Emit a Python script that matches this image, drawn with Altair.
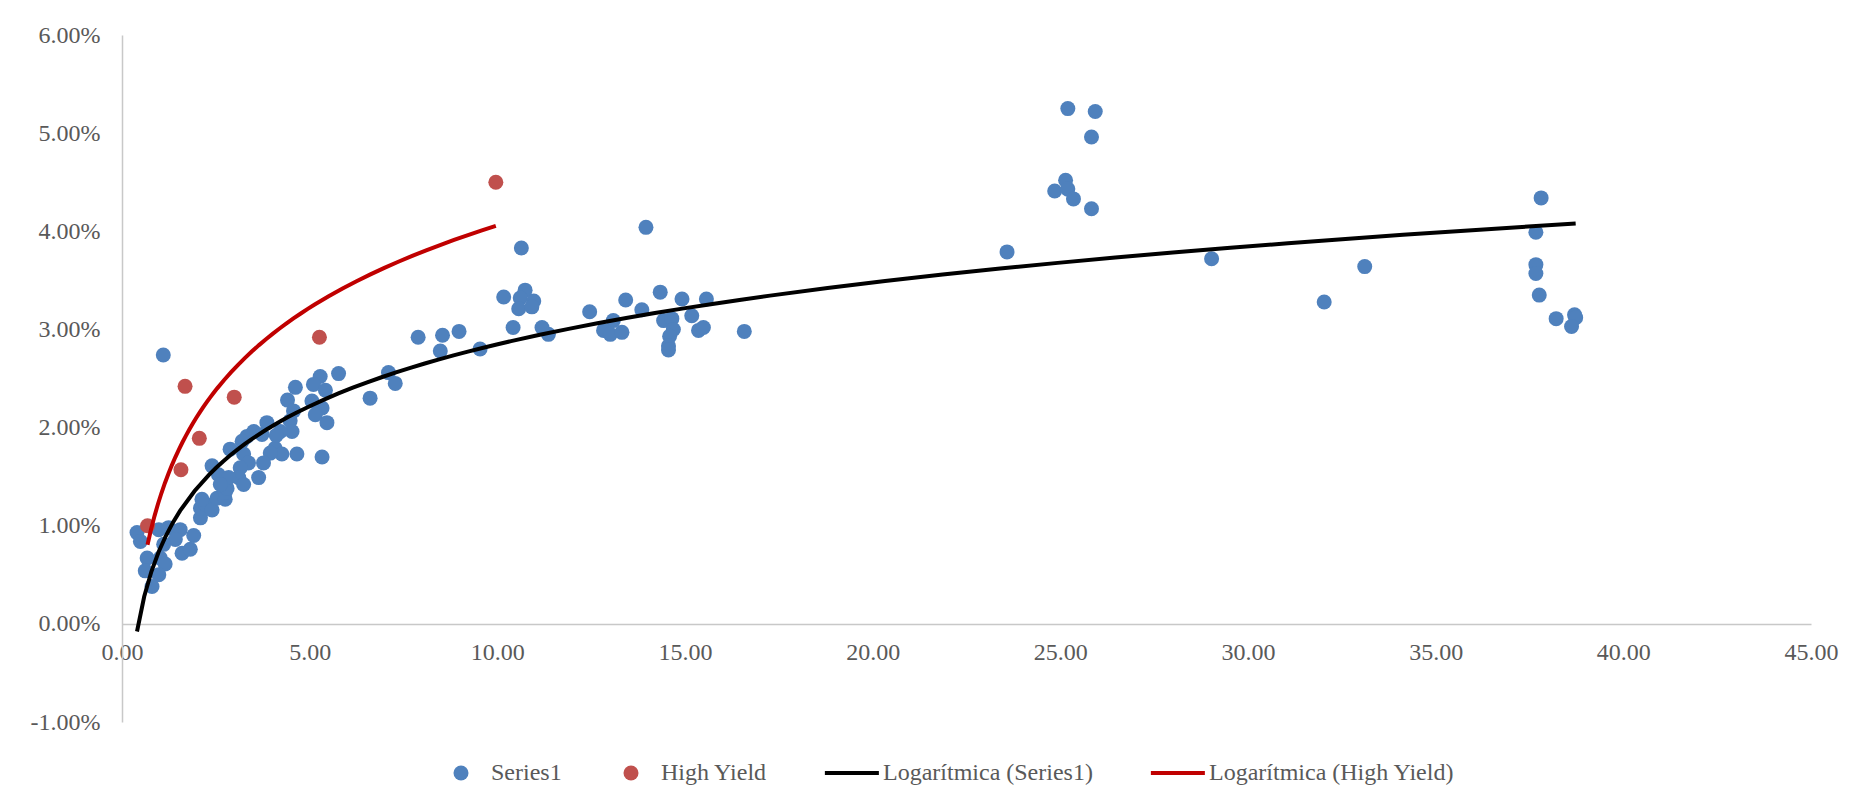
import altair as alt
import pandas as pd

# ---- data (x, yield in %) ----
series1_x = [0.40, 0.49, 0.98, 1.24, 1.55, 1.91, 1.42, 1.11, 1.60, 1.82, 0.67, 1.02, 1.15, 0.62, 0.98, 0.80,
             2.09, 2.09, 2.22, 2.40, 2.13, 2.53, 2.75, 2.75, 2.80, 1.10,
             5.77, 5.28, 5.10, 5.42, 4.62, 4.41, 5.06, 5.33, 5.15, 5.46, 4.57, 4.48, 3.86, 4.53, 4.22, 3.51,
             3.33, 3.73, 3.20, 2.88, 3.24, 4.08, 4.26, 3.95, 4.66, 5.33, 3.77, 3.37, 2.40, 3.15, 3.64, 3.11,
             2.57, 2.84, 2.62, 3.24, 4.11,
             10.64, 10.17, 10.74, 10.61, 10.97, 10.57, 10.92, 10.42, 11.19, 11.36, 12.46, 8.98, 8.54, 7.89,
             8.48, 9.54, 7.10, 7.28, 6.61,
             13.96, 13.42, 14.34, 13.85, 14.92, 15.57, 13.09, 12.83, 13.01, 13.32, 14.43, 14.65, 15.18, 14.69,
             14.59, 14.56, 14.56, 15.36, 15.49, 16.58,
             23.58, 25.20, 25.93, 25.83, 25.14, 24.85, 25.20, 25.35, 25.83, 29.03, 32.03, 33.11, 37.81, 37.67,
             37.67, 37.67, 37.76, 38.21, 38.70, 38.73, 38.62]
series1_y = [0.93, 0.84, 0.96, 0.98, 0.96, 0.90, 0.86, 0.81, 0.72, 0.76, 0.67, 0.67, 0.61, 0.54, 0.50, 0.38,
             1.08, 1.18, 1.22, 1.16, 1.27, 1.28, 1.27, 1.34, 1.38, 2.74,
             2.55, 2.52, 2.44, 2.38, 2.41, 2.28, 2.27, 2.20, 2.13, 2.05, 2.17, 2.07, 2.05, 1.96, 1.96, 1.96,
             1.91, 1.93, 1.86, 1.78, 1.73, 1.79, 1.73, 1.74, 1.73, 1.70, 1.64, 1.64, 1.61, 1.59, 1.49, 1.49,
             1.52, 1.49, 1.42, 1.42, 1.92,
             3.83, 3.33, 3.40, 3.32, 3.29, 3.21, 3.23, 3.02, 3.02, 2.95, 3.18, 2.98, 2.94, 2.92,
             2.78, 2.80, 2.56, 2.45, 2.30,
             4.04, 3.30, 3.38, 3.20, 3.31, 3.31, 3.09, 2.99, 2.95, 2.97, 3.09, 3.11, 3.14, 3.00,
             2.93, 2.83, 2.79, 2.99, 3.02, 2.98,
             3.79, 5.25, 5.22, 4.96, 4.52, 4.41, 4.43, 4.33, 4.23, 3.72, 3.28, 3.64, 4.34, 3.99,
             3.66, 3.57, 3.35, 3.11, 3.15, 3.12, 3.03]

high_yield_x = [0.68, 1.57, 1.68, 2.06, 2.99, 5.26, 9.96]
high_yield_y = [1.00, 1.57, 2.42, 1.89, 2.31, 2.92, 4.50]

legend_names = ["Series1", "High Yield", "Logarítmica (Series1)", "Logarítmica (High Yield)"]
legend_colors = ["#4F81BD", "#C0504D", "#000000", "#C00000"]
# legend symbols: dots for the series, a short bar for each trend line
line_symbol = "M-3.75,-0.27H3.45V0.27H-3.75Z"
legend_shapes = ["circle", "circle", line_symbol, line_symbol]

x_ticks = [0, 5, 10, 15, 20, 25, 30, 35, 40, 45]
y_ticks = [-0.01, 0.0, 0.01, 0.02, 0.03, 0.04, 0.05, 0.06]

df = pd.DataFrame({
    "x": series1_x + high_yield_x,
    "y": [v / 100 for v in series1_y + high_yield_y],
    "series": ["Series1"] * len(series1_x) + ["High Yield"] * len(high_yield_x),
})

FONT = "Liberation Serif"
TXT = "#595959"
AX = "#C8C8C8"

leg = alt.Legend(title=None, orient="none", legendX=327, legendY=726, direction="horizontal")

x_enc = alt.X("x:Q", scale=alt.Scale(domain=[0, 45], nice=False),
              axis=alt.Axis(values=x_ticks, format=".2f", title=None, grid=False, ticks=False,
                            offset=-98, labelPadding=16, labelFlush=False, domainColor=AX, domainWidth=1.5,
                            labelFont=FONT, labelFontSize=24, labelColor=TXT))
y_enc = alt.Y("y:Q", scale=alt.Scale(domain=[-0.01, 0.06], nice=False),
              axis=alt.Axis(values=y_ticks, format=".2%", title=None, grid=False, ticks=False,
                            labelPadding=22, labelFlush=False, domainColor=AX, domainWidth=1.5,
                            labelExpr="replace(datum.label, '\u2212', '-')",
                            labelFont=FONT, labelFontSize=24, labelColor=TXT))
color_enc = alt.Color("series:N", scale=alt.Scale(domain=legend_names, range=legend_colors), legend=leg)

points = alt.Chart(df).mark_point(filled=True, opacity=1, size=225).encode(
    x=x_enc, y=y_enc, color=color_enc,
    shape=alt.Shape("series:N", scale=alt.Scale(domain=legend_names, range=legend_shapes), legend=leg),
)

trend = alt.Chart(df).transform_regression(
    "x", "y", method="log", groupby=["series"]
).transform_calculate(
    series="'Logarítmica (' + datum.series + ')'"
).mark_line(strokeWidth=4).encode(x="x:Q", y="y:Q", color=color_enc)

chart = alt.layer(points, trend).properties(
    width=1689, height=687,
    padding={"left": 114, "top": 27, "right": 40, "bottom": 80},
    autosize="none",
).configure_view(stroke=None).configure_legend(
    labelFont=FONT, labelFontSize=24, labelColor=TXT, labelOffset=18, columnPadding=57,
    labelLimit=500, symbolSize=225, symbolStrokeWidth=0, symbolOpacity=1, padding=0,
)

chart.save("out.html", embed_options={"renderer": "svg", "actions": False})
